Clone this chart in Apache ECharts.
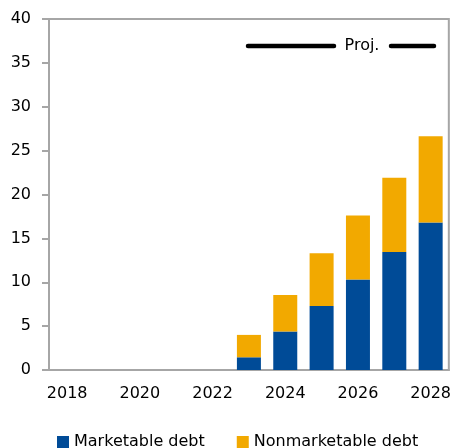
<!DOCTYPE html>
<html>
<head>
<meta charset="utf-8">
<script src="https://cdn.jsdelivr.net/npm/echarts@6/dist/echarts.min.js"></script>
<style>
  html, body { margin: 0; padding: 0; background: #fff; }
  #estrutura { width: 454px; height: 448px; }
</style>
</head>
<body>
<div id="estrutura"></div>
<script>
// data
var years = ['2018', '2019', '2020', '2021', '2022', '2023', '2024', '2025', '2026', '2027', '2028'];
var marketable = [null, null, null, null, null, 1.45, 4.4, 7.3, 10.3, 13.45, 16.8];
var nonmarketable = [null, null, null, null, null, 2.55, 4.15, 6.0, 7.3, 8.45, 9.85];
var yTicks = [0, 5, 10, 15, 20, 25, 30, 35, 40];

var chartDom = document.getElementById('estrutura');
var myChart = echarts.init(chartDom);

var axisGray = '#A6A6A6';
var font = 'DejaVu Sans';

var option = {
    animation: false,
    textStyle: { fontFamily: font },
    grid: {
        left: 49, right: 5, top: 19, bottom: 78,
        show: true, borderColor: axisGray, borderWidth: 2
    },
    legend: {
        left: 52, top: 429,
        itemWidth: 12, itemHeight: 12, itemGap: 32,
        icon: 'rect',
        textStyle: { fontSize: 16, color: '#000', fontFamily: font },
        data: ['Marketable debt', 'Nonmarketable debt']
    },
    xAxis: {
        type: 'category',
        data: years,
        boundaryGap: true,
        axisLine: { lineStyle: { color: axisGray, width: 2 } },
        axisTick: { alignWithLabel: false, interval: 0, length: 6, lineStyle: { color: axisGray, width: 2 } },
        axisLabel: { interval: 1, margin: 16, fontSize: 16, color: '#000', fontFamily: font }
    },
    yAxis: {
        type: 'value',
        min: yTicks[0], max: yTicks[yTicks.length - 1], interval: 5,
        axisLine: { show: true, lineStyle: { color: axisGray, width: 2 } },
        axisTick: { show: true, length: 7, lineStyle: { color: axisGray, width: 2 } },
        splitLine: { show: false },
        axisLabel: { margin: 18, fontSize: 16, color: '#000', fontFamily: font }
    },
    graphic: [
        { type: 'line', shape: { x1: 248, y1: 46, x2: 334, y2: 46 }, style: { stroke: '#000', lineWidth: 4.5, lineCap: 'round' } },
        { type: 'text', x: 362, y: 46, style: { text: 'Proj.', fontSize: 16, fontFamily: font, fill: '#000', align: 'center', verticalAlign: 'middle' } },
        { type: 'line', shape: { x1: 391, y1: 46, x2: 434, y2: 46 }, style: { stroke: '#000', lineWidth: 4.5, lineCap: 'round' } }
    ],
    series: [
        {
            name: 'Marketable debt', type: 'bar', stack: 'debt',
            barWidth: 24, data: marketable,
            itemStyle: { color: '#004B97' }
        },
        {
            name: 'Nonmarketable debt', type: 'bar', stack: 'debt',
            barWidth: 24, data: nonmarketable,
            itemStyle: { color: '#F2A900' }
        }
    ]
};

option && myChart.setOption(option);
</script>
</body>
</html>
